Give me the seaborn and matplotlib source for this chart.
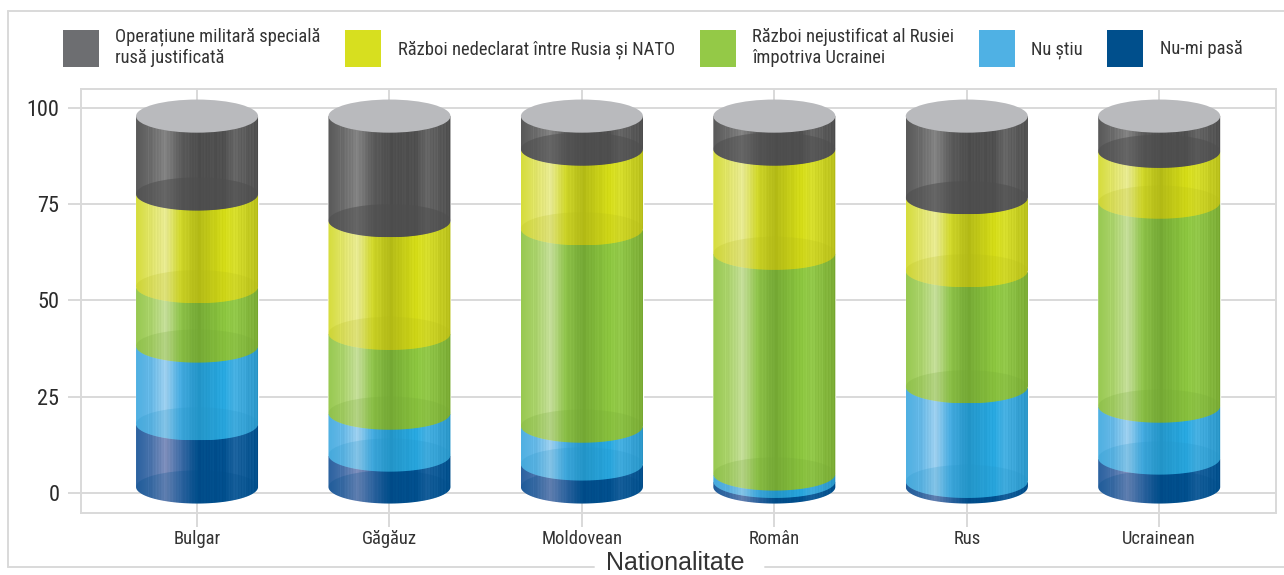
# stacked cylinders, nationalitate vs opinion on the war
import numpy as np
import pandas as pd
import matplotlib
matplotlib.use("Agg")
import matplotlib.pyplot as plt
from matplotlib import font_manager as fm
from matplotlib.lines import Line2D
from matplotlib.patches import Ellipse, PathPatch, Patch
from matplotlib.path import Path
from matplotlib.colors import to_rgb
import seaborn as sns

categories = ["Bulgar", "Găgăuz", "Moldovean", "Român", "Rus", "Ucrainean"]

# bottom to top of the stack
nu_mi_pasa = [17.0, 8.6, 6.2, 1.5, 1.5, 7.8]
nu_stiu = [21.0, 11.3, 10.2, 2.0, 25.5, 14.0]
nejustificat = [16.0, 21.5, 53.2, 59.5, 31.3, 55.0]
nedeclarat = [25.0, 30.4, 21.5, 28.1, 19.7, 13.7]
operatiune = [21.0, 28.2, 8.9, 8.9, 22.0, 9.5]

series_names = ["Nu-mi pasă", "Nu știu", "Război nejustificat al Rusiei\nîmpotriva Ucrainei",
                "Război nedeclarat între Rusia și NATO", "Operațiune militară specială\nrusă justificată"]
series_values = [nu_mi_pasa, nu_stiu, nejustificat, nedeclarat, operatiune]
legend_colors = ["#004f8c", "#4fb1e4", "#94c947", "#d7df1f", "#6d6e71"]

# side shading of each cylinder: left edge, highlight, after highlight, centre, second light, right edge
stops = [0.0, 0.12, 0.24, 0.36, 0.5, 0.72, 0.8, 1.0]
shades = [
    ["#2b62a0", "#4a73ab", "#7f8fbc", "#3f6ca6", "#004d8a", "#00508f", "#1c639f", "#004f8c"],
    ["#4fb0e2", "#66b8e6", "#9ed0ef", "#45abe0", "#2495c8", "#28a9e1", "#47b1e3", "#2a96c9"],
    ["#98c951", "#aad26b", "#c5de9a", "#8fc34a", "#75a935", "#8cc63f", "#93c94a", "#7aab34"],
    ["#d6dd3c", "#e0e46a", "#e8ea93", "#d0d72a", "#b3ba17", "#d5dc17", "#d8df2c", "#b8bf1b"],
    ["#595959", "#6c6c6c", "#838383", "#5c5c5c", "#4e4e4e", "#505050", "#666666", "#4f4f4f"],
]
floor_alpha = [0.25, 0.22, 0.22, 0.2, 0.55]
streaks = [0, 0.03, -0.02, 0.01, 0.04, -0.03, 0, 0.02, -0.04, 0.03, 0.01, -0.01, 0.05, -0.02, 0, -0.03]

# fake 3D: where value 0 and 100 end up on the axis and how flat the discs are
base_y = 1.56
y_scale = 0.963
bar_w = 0.634
disc_h = 4.3

sns.set_theme(style="whitegrid")
names = {f.name for f in fm.fontManager.ttflist}
narrow = "Roboto Condensed" if "Roboto Condensed" in names else (
    "Liberation Sans Narrow" if "Liberation Sans Narrow" in names else "Roboto")
plt.rcParams["font.family"] = [narrow, "DejaVu Sans"]

W, H = 1284, 575
fig = plt.figure(figsize=(W / 100, H / 100), dpi=100)
ax = fig.add_axes([81 / W, 1 - 513 / H, (1276 - 81) / W, 424 / H])

cum = np.zeros(len(categories))
for i, (vals, shade) in enumerate(zip(series_values, shades)):
    vals = np.array(vals)
    df = pd.DataFrame({"Nationalitate": categories, "val": vals * y_scale})
    sns.barplot(data=df, x="Nationalitate", y="val", order=categories, color=shade[4], saturation=1,
                width=bar_w, errorbar=None, bottom=base_y + cum * y_scale, zorder=3 + i, ax=ax)
    bars = ax.containers[-1]

    xs = np.linspace(0, 1, 122)
    rgb = np.array([to_rgb(c) for c in shade])
    col = np.stack([np.interp(xs, stops, rgb[:, k]) for k in range(3)], axis=1)
    st = np.resize(streaks, len(xs))[:, None]
    col = np.clip(col + st * (xs[:, None] > 0.08) * 0.6, 0, 1)
    strip = col[None, :, :]

    for bar in bars:
        x0, x1 = bar.get_x(), bar.get_x() + bar.get_width()
        lo, hi = bar.get_y(), bar.get_y() + bar.get_height()
        t = np.linspace(0, np.pi, 60)
        xc, a = (x0 + x1) / 2, (x1 - x0) / 2
        arc = np.column_stack([xc + a * np.cos(t), lo - disc_h * np.sin(t)])
        outline = np.vstack([[x0, hi], [x1, hi], arc, [x0, hi]])
        clip = PathPatch(Path(outline), transform=ax.transData, fc="none", ec="none")
        ax.add_patch(clip)
        im = ax.imshow(strip, extent=[x0, x1, lo - disc_h, hi], aspect="auto",
                       interpolation="bilinear", zorder=3 + i + 0.1)
        im.set_clip_path(clip)
        # floor of the segment seen through the wall
        floor = Ellipse((xc, lo), x1 - x0, disc_h * 2, fc=shade[4], ec="none",
                        alpha=floor_alpha[i], zorder=3 + i + 0.2, transform=ax.transData)
        ax.add_patch(floor)
        floor.set_clip_path(clip)
    cum = cum + vals

# lid on top of every cylinder
for bar in ax.containers[-1]:
    lid_x = bar.get_x() + bar.get_width() / 2
    ax.add_patch(Ellipse((lid_x, bar.get_y() + bar.get_height()), bar.get_width(), disc_h * 2,
                         fc="#b9babd", ec="none", zorder=20))

grid_col = "#d9d9d9"
ax.set_xlim(-0.603, 5.607)
ax.set_ylim(-5.2, 104.9)
ax.set_yticks([0, 25, 50, 75, 100])
ax.set_axisbelow(True)
ax.grid(True, axis="both", color=grid_col, lw=1.4)
for s in ax.spines.values():
    s.set_color(grid_col)
    s.set_linewidth(1.4)
ax.tick_params(axis="y", length=9.5, width=1.4, color=grid_col, labelsize=16, labelcolor="#2b2b2b", pad=6, left=True)
ax.tick_params(axis="x", length=10, width=1.4, color=grid_col, labelsize=13.4, labelcolor="#333333", pad=2, bottom=True)
ax.set_ylabel("")
ax.set_xlabel("Nationalitate", fontsize=18, color="#333333", family="Liberation Sans")
ax.xaxis.label.set_verticalalignment("baseline")
ax.xaxis.set_label_coords(0.4975, (513 - 570.5) / 424, transform=ax.transAxes)

# outer frame, open to the right, with a gap for the axis title
frame = [([8, 8], [11, 567]), ([8, W], [11, 11]), ([8, 594], [567, 567]), ([765, W], [567, 567])]
for fx, fy in frame:
    fig.add_artist(Line2D([v / W for v in fx], [1 - v / H for v in fy], color=grid_col, lw=1.4,
                          transform=fig.transFigure))

order = [4, 3, 2, 1, 0]
handles = [Patch(fc=legend_colors[k], ec="none") for k in order]
labels = [series_names[k] for k in order]
fs = 13.35
em = fs * 100 / 72
fig.legend(handles, labels, ncols=5, frameon=False, fontsize=fs, labelcolor="#333333",
           handlelength=36 / em, handleheight=2.69,
           handletextpad=16.5 / em, columnspacing=24.5 / em,
           labelspacing=0, borderpad=0, borderaxespad=0,
           loc="center left", bbox_to_anchor=(63 / W, 1 - 47.5 / H))

fig.savefig("out.png", dpi=100)
